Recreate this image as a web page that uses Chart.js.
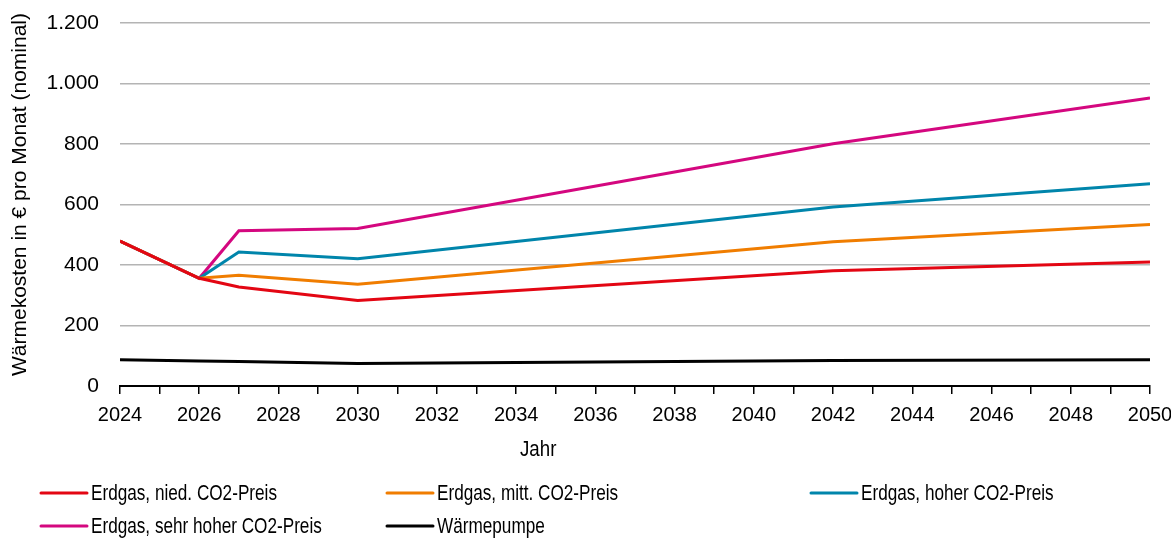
<!DOCTYPE html>
<html lang="de">
<head>
<meta charset="utf-8">
<title>Wärmekosten pro Monat</title>
<script src="https://cdn.jsdelivr.net/npm/chart.js@4/dist/chart.umd.min.js"></script>
<style>
  html, body { margin: 0; padding: 0; background: #fff; }
  #wrap { position: relative; width: 1171px; height: 538px; }
</style>
</head>
<body>
<div id="wrap"><canvas id="chart" width="1171" height="538"></canvas></div>
<script>
// Stützjahre der Szenarien
const years = [2024, 2026, 2027, 2030, 2042, 2050];

// Monatliche Wärmekosten in € (nominal)
const gasLow      = [479, 356, 327, 283, 381, 410];
const gasMid      = [479, 356, 366, 336, 477, 534];
const gasHigh     = [479, 356, 443, 421, 592, 669];
const gasVeryHigh = [479, 356, 513, 521, 801, 952];
const heatPump    = [87, 83, 81, 74, 84, 87];

const seriesNames = [
  'Erdgas, nied. CO2-Preis',
  'Erdgas, mitt. CO2-Preis',
  'Erdgas, hoher CO2-Preis',
  'Erdgas, sehr hoher CO2-Preis',
  'Wärmepumpe'
];
const seriesValues = [gasLow, gasMid, gasHigh, gasVeryHigh, heatPump];
const seriesColors = ['#e30613', '#f07d00', '#0085ab', '#d4077f', '#000000'];

const yAxisTitle = 'Wärmekosten in € pro Monat (nominal)';
const xAxisTitle = 'Jahr';

const FONT = "'Liberation Sans', Arial, sans-serif";

const datasets = seriesValues.map((vals, i) => ({
  label: seriesNames[i],
  data: vals.map((v, k) => ({ x: years[k], y: v })),
  borderColor: seriesColors[i],
  backgroundColor: seriesColors[i],
  borderWidth: 3,
  pointRadius: 0,
  tension: 0,
  fill: false
}));

// schmal gesetzten Text zeichnen (horizontal gestaucht)
function narrowText(ctx, text, x, y, squeeze) {
  ctx.save();
  ctx.translate(x, y);
  ctx.scale(squeeze, 1);
  ctx.fillText(text, 0, 0);
  ctx.restore();
}

// Achsentitel und dreispaltige Legende
const decorations = {
  id: 'decorations',
  afterDraw(chart) {
    const ctx = chart.ctx;
    const area = chart.chartArea;
    ctx.save();
    ctx.fillStyle = '#000';
    ctx.textBaseline = 'middle';

    // y-Achsentitel
    ctx.font = '21px ' + FONT;
    ctx.textAlign = 'center';
    ctx.save();
    ctx.translate(20, (area.top + area.bottom) / 2 - 10);
    ctx.rotate(-Math.PI / 2);
    ctx.fillText(yAxisTitle, 0, 0);
    ctx.restore();

    // x-Achsentitel
    ctx.font = '22px ' + FONT;
    narrowText(ctx, xAxisTitle, area.left + (area.right - area.left) * 0.406, area.bottom + 64, 0.85);

    // Legende
    const colX = [41, 387, 811];
    const rowY = [493, 526];
    ctx.textAlign = 'left';
    chart.data.datasets.forEach((ds, i) => {
      const x = colX[i % 3];
      const y = rowY[Math.floor(i / 3)];
      ctx.strokeStyle = ds.borderColor;
      ctx.lineWidth = 3;
      ctx.lineCap = 'round';
      ctx.beginPath();
      ctx.moveTo(x, y);
      ctx.lineTo(x + 46, y);
      ctx.stroke();
      narrowText(ctx, ds.label, x + 50, y + 1, 0.78);
    });
    ctx.restore();
  }
};

new Chart(document.getElementById('chart'), {
  type: 'line',
  data: { datasets },
  options: {
    responsive: false,
    animation: false,
    layout: { padding: { top: 23, right: 21, bottom: 72, left: 0 } },
    plugins: {
      legend: { display: false },
      tooltip: { enabled: false }
    },
    scales: {
      x: {
        type: 'linear',
        min: 2024,
        max: 2050,
        afterFit(scale) {
          scale.height = 80;
          scale.paddingLeft = 0;
          scale.paddingRight = 0;
        },
        ticks: {
          stepSize: 1,
          autoSkip: false,
          maxRotation: 0,
          padding: 9,
          color: '#000',
          font: { family: FONT, size: 20 },
          callback: v => (v % 2 === 0 ? String(v) : '')
        },
        grid: {
          drawOnChartArea: false,
          drawTicks: true,
          tickLength: 8,
          color: '#000',
          lineWidth: 1.5
        },
        border: { display: true, color: '#000', width: 2 }
      },
      y: {
        min: 0,
        max: 1200,
        afterFit(scale) {
          scale.width = 120;
          scale.paddingTop = 0;
          scale.paddingBottom = 0;
        },
        ticks: {
          stepSize: 200,
          padding: 21,
          color: '#000',
          font: { family: FONT, size: 21 },
          callback: v => v.toLocaleString('de-DE')
        },
        grid: {
          color: '#b4b4b4',
          lineWidth: 1.5,
          drawTicks: false
        },
        border: { display: false }
      }
    }
  },
  plugins: [decorations]
});
</script>
</body>
</html>
